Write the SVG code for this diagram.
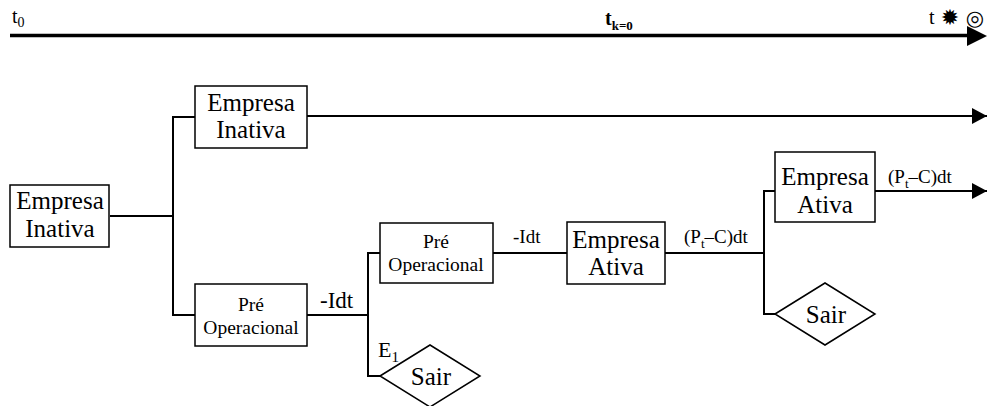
<svg xmlns="http://www.w3.org/2000/svg" width="988" height="406" viewBox="0 0 988 406" font-family="Liberation Serif, Times New Roman, DejaVu Serif, serif">
<defs>
<style>
.box{fill:#fff;stroke:#000;stroke-width:1.5}
.ln{fill:none;stroke:#000;stroke-width:2}
.big{font-size:25px;text-anchor:middle}
.op{font-size:19.5px;text-anchor:middle}
.lbl{font-size:19px}
</style>
<marker id="ah" markerUnits="userSpaceOnUse" markerWidth="16" markerHeight="16" refX="15" refY="8" orient="auto" viewBox="0 0 16 16">
<polygon points="0,0 15,8 0,16" fill="#000"/>
</marker>
</defs>
<rect width="988" height="406" fill="#fff"/>
<g id="timeline">
<line x1="10" y1="35.5" x2="970" y2="35.5" stroke="#000" stroke-width="3.5"/>
<polygon points="967,26 987,36 967,46" fill="#000"/>
<text font-family="Liberation Serif, serif" x="12" y="23" font-size="20">t<tspan font-size="14" dy="4">0</tspan></text>
<text font-family="Liberation Serif, serif" x="605" y="25" font-size="20" font-weight="bold">t<tspan font-size="13" dy="5">k=0</tspan></text>
<text font-family="Liberation Serif, serif" x="929" y="24" font-size="20">t</text>
<text x="950" y="25" font-size="22" text-anchor="middle" font-family="DejaVu Sans, sans-serif">✹</text>
<text x="975" y="25" font-size="21" text-anchor="middle" font-family="DejaVu Sans, sans-serif">◎</text>
</g>
<g id="connectors" font-family="Liberation Serif, serif">
<polyline class="ln" points="110,216 173,216"/>
<polyline class="ln" points="195,117 173,117 173,315 195,315"/>
<line class="ln" x1="307" y1="116" x2="987" y2="116" marker-end="url(#ah)"/>
<polyline class="ln" points="307,315 368,315"/>
<polyline class="ln" points="380,253 368,253 368,376 380,376"/>
<line class="ln" x1="493" y1="253" x2="567" y2="253"/>
<line class="ln" x1="665" y1="253" x2="764" y2="253"/>
<polyline class="ln" points="775,191 764,191 764,314 775,314"/>
<line class="ln" x1="875" y1="191" x2="987" y2="191" marker-end="url(#ah)"/>
<text x="320" y="308" font-size="23">-Idt</text>
<text x="378" y="357" font-size="22">E<tspan font-size="15" dy="5">1</tspan></text>
<text class="lbl" x="513" y="243">-Idt</text>
<text class="lbl" x="684" y="243">(P<tspan font-size="13" dy="5">t</tspan><tspan dy="-5">–C)dt</tspan></text>
<text class="lbl" x="888" y="183">(P<tspan font-size="13" dy="5">t</tspan><tspan dy="-5">–C)dt</tspan></text>
</g>
<g id="n1" font-family="Liberation Serif, serif">
<rect class="box" x="10" y="185" width="99" height="62"/>
<text class="big" x="60" y="209">Empresa</text>
<text class="big" x="60" y="237">Inativa</text>
</g>
<g id="n2" font-family="Liberation Serif, serif">
<rect class="box" x="195" y="86" width="112" height="62"/>
<text class="big" x="251" y="111">Empresa</text>
<text class="big" x="251" y="138">Inativa</text>
</g>
<g id="n3" font-family="Liberation Serif, serif">
<rect class="box" x="195" y="284" width="112" height="62"/>
<text class="op" x="251" y="311">Pré</text>
<text class="op" x="251" y="334">Operacional</text>
</g>
<g id="n4" font-family="Liberation Serif, serif">
<rect class="box" x="380" y="223" width="113" height="60"/>
<text class="op" x="436" y="248">Pré</text>
<text class="op" x="436" y="271">Operacional</text>
</g>
<g id="n5" font-family="Liberation Serif, serif">
<polygon class="box" points="380,376 430,345 480,376 430,407"/>
<text class="big" x="431" y="385">Sair</text>
</g>
<g id="n6" font-family="Liberation Serif, serif">
<rect class="box" x="567" y="222" width="98" height="62"/>
<text class="big" x="616" y="248">Empresa</text>
<text class="big" x="616" y="275">Ativa</text>
</g>
<g id="n7" font-family="Liberation Serif, serif">
<rect class="box" x="775" y="152" width="100" height="70"/>
<text class="big" x="825" y="185">Empresa</text>
<text class="big" x="825" y="213">Ativa</text>
</g>
<g id="n8" font-family="Liberation Serif, serif">
<polygon class="box" points="775,314 825,283 875,314 825,345"/>
<text class="big" x="826" y="323">Sair</text>
</g>
</svg>
